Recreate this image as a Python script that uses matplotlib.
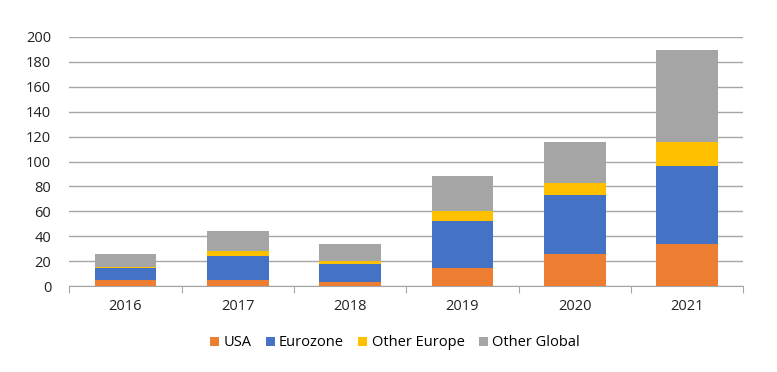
import matplotlib.pyplot as plt
import numpy as np

years = ['2016', '2017', '2018', '2019', '2020', '2021']
usa = [5.1, 5.1, 3.5, 14.7, 25.9, 33.9]
eurozone = [9.9, 19.2, 14.4, 37.7, 47.3, 62.5]
other_europe = [0.8, 4.0, 2.4, 8.0, 9.3, 19.3]
other_global = [10.1, 16.0, 13.6, 28.0, 33.2, 73.7]

series = [('USA', usa, '#ED7D31'),
          ('Eurozone', eurozone, '#4472C4'),
          ('Other Europe', other_europe, '#FFC000'),
          ('Other Global', other_global, '#A5A5A5')]

plt.rcParams['font.family'] = ['Open Sans', 'DejaVu Sans']

fig = plt.figure(figsize=(7.77, 3.72), dpi=100)
ax = fig.add_axes([69.3 / 777, 1 - 286.3 / 372, (743.3 - 69.3) / 777, (286.3 - 36.7) / 372])

x = np.arange(len(years))
bottom = np.zeros(len(years))
for name, vals, color in series:
    ax.bar(x, vals, 0.55, bottom=bottom, color=color, label=name, zorder=3)
    bottom += np.array(vals)

ax.set_xlim(-0.5, len(years) - 0.5)
ax.set_ylim(0, 200)
ax.set_yticks(range(0, 201, 20))
ax.yaxis.grid(True, color='#A6A6A6', linewidth=1, zorder=0)
ax.tick_params(axis='y', length=0, labelsize=10.5, colors='#222222', pad=13)

# category boundaries get the tick marks, labels sit between them
ax.set_xticks(np.arange(-0.5, len(years)), minor=False)
ax.set_xticklabels([])
ax.tick_params(axis='x', which='major', length=5, color='#A6A6A6')
ax.set_xticks(x, minor=True)
ax.set_xticklabels(years, minor=True)
ax.tick_params(axis='x', which='minor', length=0, labelsize=10.5, colors='#222222', pad=9)

for s in ['top', 'right', 'left']:
    ax.spines[s].set_visible(False)
ax.spines['bottom'].set_color('#A6A6A6')
ax.spines['bottom'].set_zorder(4)

fig.legend(loc='center', bbox_to_anchor=(395 / 777, 1 - 343 / 372), ncol=4, frameon=False,
           fontsize=10.5, handlelength=0.6, handleheight=0.6, handletextpad=0.3, columnspacing=1.0)

fig.savefig('out.png', dpi=100)
